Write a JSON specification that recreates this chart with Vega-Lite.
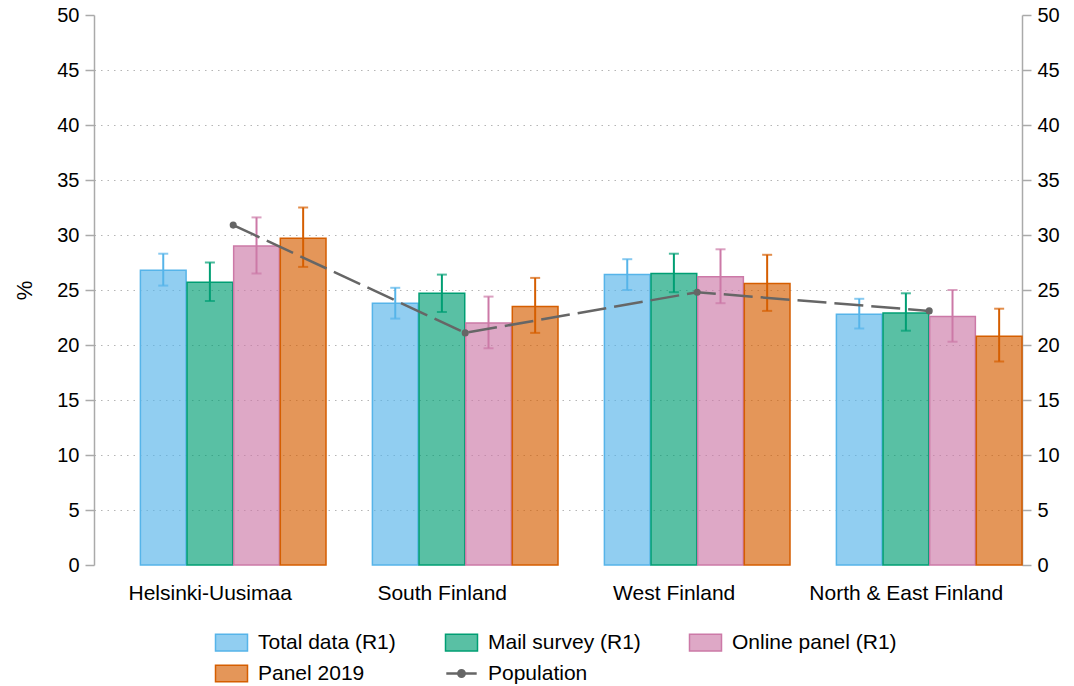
{
  "$schema": "https://vega.github.io/schema/vega-lite/v6.json",
  "width": 928,
  "height": 550,
  "autosize": {"type": "none"},
  "padding": {"left": 94, "top": 15, "right": 52, "bottom": 121},
  "background": "white",
  "config": {
    "font": "Liberation Sans",
    "view": {"stroke": null},
    "axis": {"labelColor": "#000", "titleColor": "#000", "labelFont": "Liberation Sans", "titleFont": "Liberation Sans"}
  },
  "datasets": {
    "bars": [
      {"region": "Helsinki-Uusimaa", "series": "Total data (R1)", "value": 26.8, "lo": 25.4, "hi": 28.3},
      {"region": "Helsinki-Uusimaa", "series": "Mail survey (R1)", "value": 25.7, "lo": 24.0, "hi": 27.5},
      {"region": "Helsinki-Uusimaa", "series": "Online panel (R1)", "value": 29.0, "lo": 26.5, "hi": 31.6},
      {"region": "Helsinki-Uusimaa", "series": "Panel 2019", "value": 29.7, "lo": 27.1, "hi": 32.5},
      {"region": "South Finland", "series": "Total data (R1)", "value": 23.8, "lo": 22.4, "hi": 25.2},
      {"region": "South Finland", "series": "Mail survey (R1)", "value": 24.7, "lo": 23.0, "hi": 26.4},
      {"region": "South Finland", "series": "Online panel (R1)", "value": 22.0, "lo": 19.7, "hi": 24.4},
      {"region": "South Finland", "series": "Panel 2019", "value": 23.5, "lo": 21.1, "hi": 26.1},
      {"region": "West Finland", "series": "Total data (R1)", "value": 26.4, "lo": 25.0, "hi": 27.8},
      {"region": "West Finland", "series": "Mail survey (R1)", "value": 26.5, "lo": 24.8, "hi": 28.3},
      {"region": "West Finland", "series": "Online panel (R1)", "value": 26.2, "lo": 23.8, "hi": 28.7},
      {"region": "West Finland", "series": "Panel 2019", "value": 25.6, "lo": 23.1, "hi": 28.2},
      {"region": "North & East Finland", "series": "Total data (R1)", "value": 22.8, "lo": 21.5, "hi": 24.2},
      {"region": "North & East Finland", "series": "Mail survey (R1)", "value": 22.9, "lo": 21.3, "hi": 24.7},
      {"region": "North & East Finland", "series": "Online panel (R1)", "value": 22.6, "lo": 20.3, "hi": 25.0},
      {"region": "North & East Finland", "series": "Panel 2019", "value": 20.8, "lo": 18.5, "hi": 23.3}
    ],
    "pop": [
      {"region": "Helsinki-Uusimaa", "value": 30.9},
      {"region": "South Finland", "value": 21.1},
      {"region": "West Finland", "value": 24.8},
      {"region": "North & East Finland", "value": 23.1}
    ]
  },
  "layer": [
    {
      "data": {"name": "bars"},
      "encoding": {
        "x": {
          "field": "region", "type": "nominal", "sort": null,
          "scale": {"domain": ["Helsinki-Uusimaa", "South Finland", "West Finland", "North & East Finland"], "paddingInner": 0.2, "paddingOuter": 0.1, "align": 1},
          "axis": {"title": null, "domain": false, "ticks": false, "tickSize": 0, "labelAngle": 0, "labelFontSize": 21, "labelPadding": 17, "labelOffset": -23, "labelLimit": 400}
        },
        "xOffset": {"field": "series", "type": "nominal", "sort": null,
          "scale": {"domain": ["Total data (R1)", "Mail survey (R1)", "Online panel (R1)", "Panel 2019"], "paddingInner": 0.02}}
      },
      "layer": [
        {
          "mark": {"type": "bar", "fillOpacity": 0.65, "strokeWidth": 1.5},
          "encoding": {
            "y": {
              "field": "value", "type": "quantitative",
              "scale": {"domain": [0, 50], "nice": false, "zero": true},
              "axis": {
                "title": "%", "titleFontSize": 22, "titleFontWeight": "normal", "titlePadding": 20,
                "values": [0, 5, 10, 15, 20, 25, 30, 35, 40, 45, 50],
                "labelFontSize": 20, "labelPadding": 6, "tickSize": 9, "tickColor": "#aaaaaa", "domainColor": "#aaaaaa", "domainWidth": 1.5, "tickWidth": 1.5,
                "grid": true, "gridDash": [1.5, 5], "gridColor": "#b5b5b5", "gridWidth": 1.2,
                "gridOpacity": {"condition": {"test": "datum.value === 0 || datum.value === 50", "value": 0}, "value": 1}
              }
            },
            "fill": {
              "field": "series", "type": "nominal",
              "scale": {"domain": ["Total data (R1)", "Mail survey (R1)", "Online panel (R1)", "Panel 2019", "Population"], "range": ["#56B4E9", "#009E73", "#CC79A7", "#D55E00", "#666666"]},
              "legend": {
                "title": null, "orient": "none", "legendX": 127, "legendY": 617, "direction": "horizontal", "columns": 3,
                "labelFontSize": 21, "labelFont": "Liberation Sans", "labelColor": "#000", "labelLimit": 400, "symbolSize": 1024, "labelOffset": 16, "columnPadding": 45, "rowPadding": 8, "padding": 0,
                "values": ["Total data (R1)", "Mail survey (R1)", "Online panel (R1)", "Panel 2019", "Population"],
                "symbolType": "M-1,-0.52L1,-0.52L1,0.52L-1,0.52Z",
                "encode": {
                  "symbols": {
                    "update": {
                      "shape": {"signal": "datum.value === 'Population' ? 'M-0.95,0L0.95,0M-0.2,0A0.2,0.2 0 1,0 0.2,0A0.2,0.2 0 1,0 -0.2,0Z' : 'M-1,-0.52L1,-0.52L1,0.52L-1,0.52Z'"},
                      "stroke": {"signal": "scale('fill', datum.value)"},
                      "fillOpacity": {"signal": "datum.value === 'Population' ? 1 : 0.65"},
                      "strokeWidth": {"signal": "datum.value === 'Population' ? 2.5 : 1.5"}
                    }
                  }
                }
              }
            },
            "stroke": {
              "field": "series", "type": "nominal",
              "scale": {"domain": ["Total data (R1)", "Mail survey (R1)", "Online panel (R1)", "Panel 2019", "Population"], "range": ["#56B4E9", "#009E73", "#CC79A7", "#D55E00", "#666666"]},
              "legend": null
            }
          }
        },
        {
          "mark": {"type": "rule", "strokeWidth": 2},
          "encoding": {
            "y": {"field": "lo", "type": "quantitative"},
            "y2": {"field": "hi"},
            "stroke": {"field": "series", "type": "nominal", "legend": null}
          }
        },
        {
          "mark": {"type": "tick", "thickness": 2, "size": 10},
          "encoding": {
            "y": {"field": "lo", "type": "quantitative"},
            "fill": {"field": "series", "type": "nominal"}
          }
        },
        {
          "mark": {"type": "tick", "thickness": 2, "size": 10},
          "encoding": {
            "y": {"field": "hi", "type": "quantitative"},
            "fill": {"field": "series", "type": "nominal"}
          }
        }
      ]
    },
    {
      "data": {"name": "pop"},
      "encoding": {
        "x": {"field": "region", "type": "nominal", "sort": null},
        "y": {
          "field": "value", "type": "quantitative",
          "scale": {"domain": [0, 50], "nice": false, "zero": true},
          "axis": {
            "orient": "right", "title": null, "grid": false,
            "values": [0, 5, 10, 15, 20, 25, 30, 35, 40, 45, 50],
            "labelFontSize": 20, "labelPadding": 6, "tickSize": 9, "tickColor": "#aaaaaa", "domainColor": "#aaaaaa", "domainWidth": 1.5, "tickWidth": 1.5
          }
        }
      },
      "layer": [
        {"mark": {"type": "line", "color": "#666666", "strokeWidth": 2.5, "strokeDash": [29, 8]}},
        {"mark": {"type": "point", "filled": true, "color": "#666666", "size": 50, "opacity": 1}}
      ]
    }
  ],
  "resolve": {"scale": {"y": "independent"}}
}
